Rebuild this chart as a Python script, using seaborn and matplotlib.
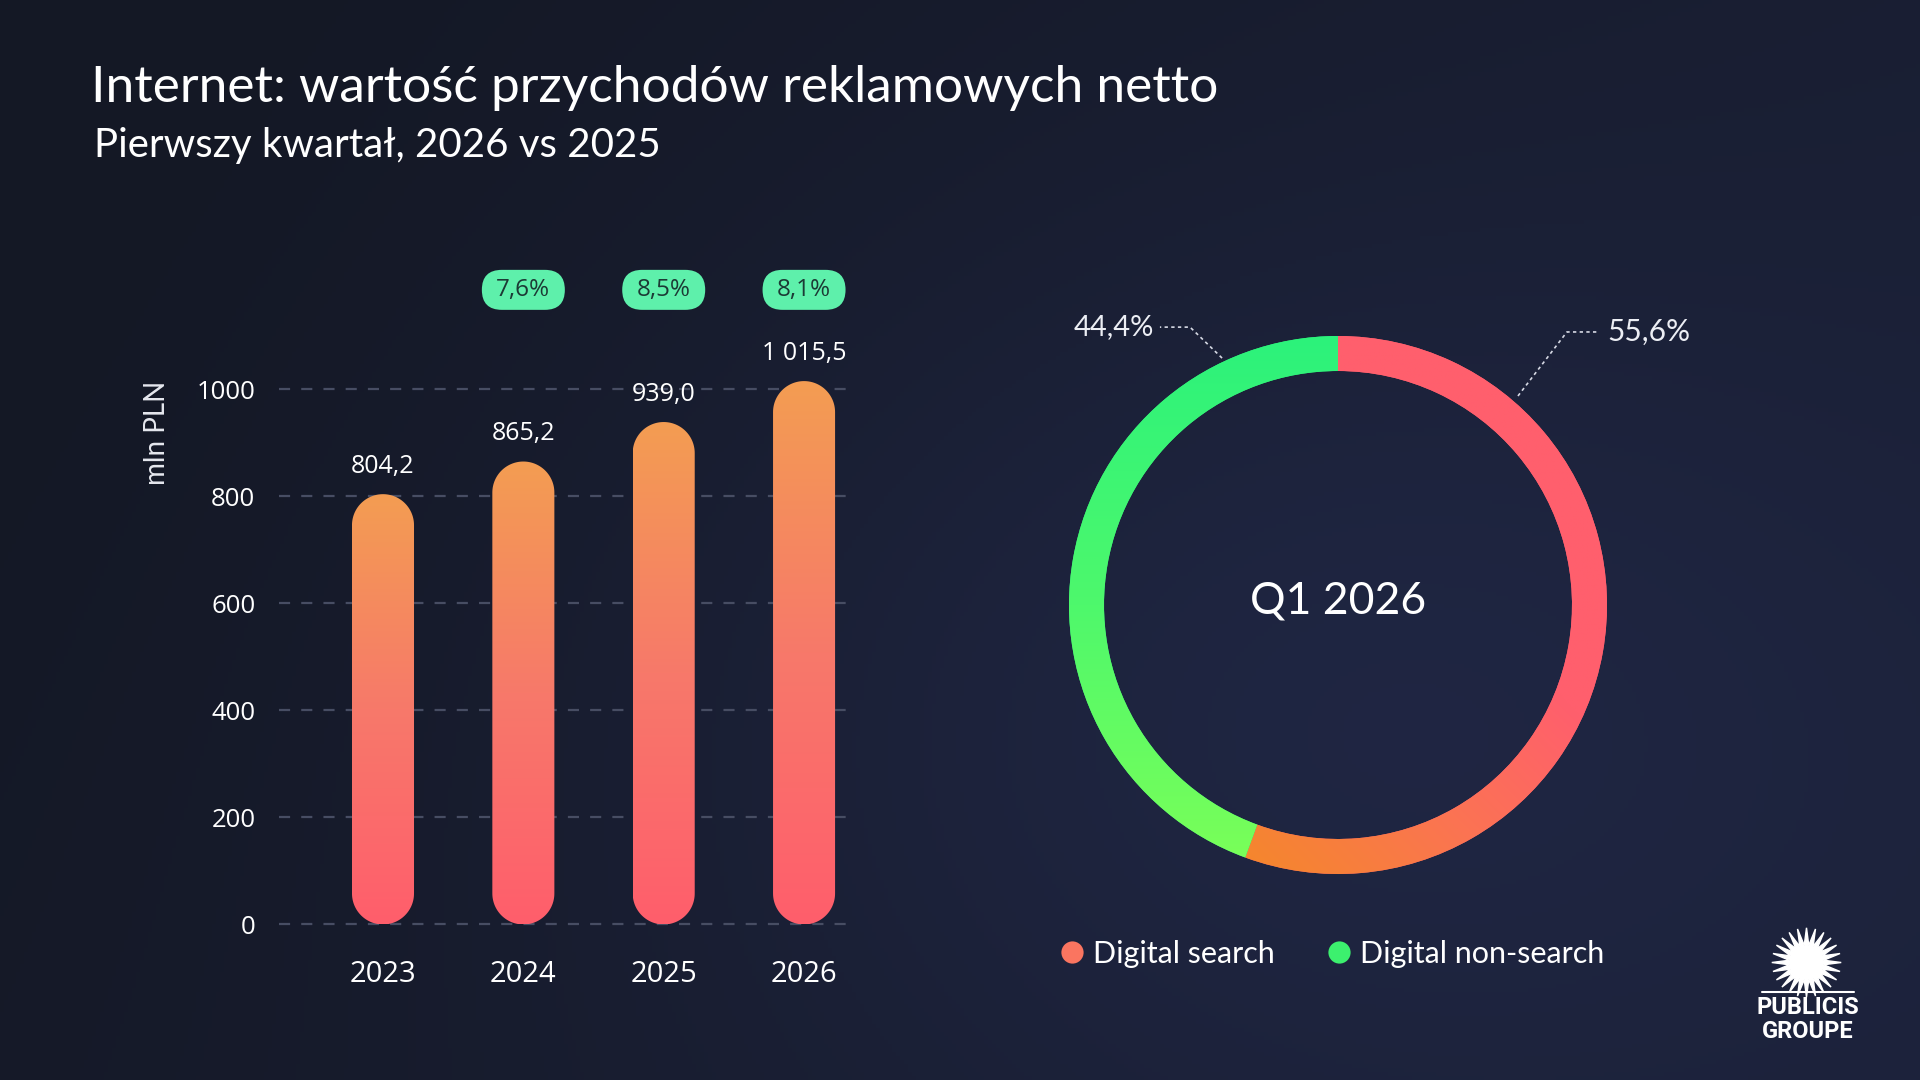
import numpy as np
import matplotlib.pyplot as plt
import seaborn as sns
from matplotlib.patches import FancyBboxPatch, PathPatch
from matplotlib.path import Path
from matplotlib.colors import LinearSegmentedColormap
from matplotlib.lines import Line2D

# data
years = ['2023', '2024', '2025', '2026']
revenue = [804.2, 865.2, 939.0, 1015.5]
revenue_labels = ['804,2', '865,2', '939,0', '1 015,5']
growth_labels = ['', '7,6%', '8,5%', '8,1%']
y_ticks = [0, 200, 400, 600, 800, 1000]
share_names = ['Digital search', 'Digital non-search']
share_values = [55.6, 44.4]
share_labels = ['55,6%', '44,4%']

title = 'Internet: wartość przychodów reklamowych netto'
subtitle = 'Pierwszy kwartał, 2026 vs 2025'

sns.set_style('dark')
plt.rcParams['font.family'] = ['Lato', 'DejaVu Sans']
plt.rcParams['text.color'] = 'white'

W, H = 1920, 1080
fig = plt.figure(figsize=(W / 100, H / 100), dpi=100)
fig.patch.set_facecolor('#181d2e')

# background gradient with a soft glow behind the donut
bg = fig.add_axes([0, 0, 1, 1], zorder=-10)
bg.axis('off')
yy, xx = np.mgrid[0:1:270j, 0:1:480j]
dark = np.array([0x14, 0x18, 0x25]) / 255
light = np.array([0x21, 0x28, 0x47]) / 255
t = np.clip(0.75 * xx + 0.25 * (1 - yy) - 0.1, 0, 1)
glow = np.exp(-(((xx - 0.68) / 0.35) ** 2 + ((yy - 0.35) / 0.45) ** 2))
t = np.clip(0.6 * t + 0.5 * glow, 0, 1)
img = dark + (light - dark) * t[..., None]
bg.imshow(img, extent=(0, 1, 0, 1), origin='lower', aspect='auto')
bg.set_xlim(0, 1)
bg.set_ylim(0, 1)

fig.text(91 / W, 1 - 88 / H, title, fontsize=37, va='center')
fig.text(94 / W, 1 - 146 / H, subtitle, fontsize=29, va='center')

# ---------------- bar chart ----------------
ax = fig.add_axes([279 / W, 0.12912, 576 / W, 0.63421])
ax.set_facecolor('none')
sns.barplot(x=years, y=revenue, ax=ax, width=0.442, color='#f58a5f')
ax.set_xlim(-0.741, 3.363)
ax.set_ylim(-30, 1250)

bbox = ax.get_position()
xpp = np.diff(ax.get_xlim())[0] / (bbox.width * W)
ypp = np.diff(ax.get_ylim())[0] / (bbox.height * H)
aspect = ypp / xpp


def capsule(x0, w, h):
    r = w / 2
    ry = r * aspect
    cx = x0 + r
    top = np.linspace(0, np.pi, 60)
    bot = np.linspace(np.pi, 2 * np.pi, 60)
    xs = np.concatenate([cx + r * np.cos(top), cx + r * np.cos(bot)])
    ys = np.concatenate([h - ry + ry * np.sin(top), ry + ry * np.sin(bot)])
    verts = np.column_stack([xs, ys])
    verts = np.vstack([verts, verts[:1]])
    codes = [Path.MOVETO] + [Path.LINETO] * (len(verts) - 2) + [Path.CLOSEPOLY]
    return PathPatch(Path(verts, codes), facecolor='none', edgecolor='none')


bar_cmap = LinearSegmentedColormap.from_list('bar', ['#ff5e6c', '#f7796a', '#f39d52'])
grad = np.linspace(0, 1, 256).reshape(-1, 1)
for p in list(ax.patches):
    x0, w, h = p.get_x(), p.get_width(), p.get_height()
    p.set_visible(False)
    cap = capsule(x0, w, h)
    ax.add_patch(cap)
    im = ax.imshow(grad, extent=(x0, x0 + w, 0, h), origin='lower', aspect='auto',
                   cmap=bar_cmap, zorder=3)
    im.set_clip_path(cap)

ax.set_xlim(-0.741, 3.363)
ax.set_ylim(-30, 1250)
ax.set_yticks(y_ticks)
ax.set_yticklabels([str(v) for v in y_ticks])
ax.yaxis.grid(True, linestyle=(0, (5, 5)), color='#474d63', lw=1.6)
ax.xaxis.grid(False)
ax.set_axisbelow(True)
for s in ax.spines.values():
    s.set_visible(False)
ax.tick_params(axis='y', length=0, pad=17, labelsize=18.5, labelcolor='white')
ax.tick_params(axis='x', length=0, pad=14, labelsize=21, labelcolor='white')
ax.set_xlabel('')
ax.set_ylabel('')
for lab in ax.get_xticklabels() + ax.get_yticklabels():
    lab.set_family(['Open Sans', 'DejaVu Sans'])

for i, (v, lbl) in enumerate(zip(revenue, revenue_labels)):
    ax.annotate(lbl, (i, v), xytext=(0, 20), textcoords='offset points',
                ha='center', va='center', fontsize=18, color='white',
                family=['Open Sans', 'DejaVu Sans'])

badge_y = 1186
bw, bh = 83 * xpp, 40 * ypp
for i, g in enumerate(growth_labels):
    if not g:
        continue
    badge = FancyBboxPatch((i - bw / 2, badge_y - bh / 2), bw, bh,
                           boxstyle=f'round,pad=0,rounding_size={20 * xpp}',
                           mutation_aspect=aspect, facecolor='#5ef0ab',
                           edgecolor='none', clip_on=False, zorder=4)
    ax.add_patch(badge)
    ax.text(i, badge_y, g, ha='center', va='center', fontsize=17.5, color='#1c3a35',
            family=['Open Sans', 'DejaVu Sans'], zorder=5, clip_on=False)

fig.text(157 / W, 1 - 433 / H, 'mln PLN', rotation=90, fontsize=20,
         ha='center', va='center', color='#e6e8ef')

# ---------------- donut ----------------
R = 269
ax2 = fig.add_axes([(1338 - 300) / W, (H - 605 - 300) / H, 600 / W, 600 / H])
ax2.set_facecolor('none')
wedges, _ = ax2.pie(share_values, startangle=90, counterclock=False, radius=1,
                    colors=['#ff5f6d', '#2ef27a'],
                    wedgeprops=dict(width=35 / R, linewidth=0, edgecolor='none'))
lim = 300 / R
ax2.set_xlim(-lim, lim)
ax2.set_ylim(-lim, lim)
ax2.axis('off')

X, Y = np.meshgrid(np.linspace(-1, 1, 400), np.linspace(-1, 1, 400))
search_t = np.clip(((X + Y) / np.sqrt(2) + 0.9) / 1.25, 0, 1)
green_t = (1 - Y) / 2
search_cmap = LinearSegmentedColormap.from_list('s', ['#f5862e', '#fb7452', '#ff5f6d'])
green_cmap = LinearSegmentedColormap.from_list('g', ['#2cf27b', '#4ef86c', '#7cff58'])
for wdg, tt, cm in zip(wedges, [search_t, green_t], [search_cmap, green_cmap]):
    im = ax2.imshow(tt, extent=(-1, 1, -1, 1), origin='lower', cmap=cm,
                    vmin=0, vmax=1, aspect='auto', zorder=2)
    im.set_clip_path(wdg)
ax2.set_xlim(-lim, lim)
ax2.set_ylim(-lim, lim)

ax2.text(0, 0.015, 'Q1 2026', ha='center', va='center', fontsize=32)

line_kw = dict(color='#d6d9e4', lw=1.2, linestyle=(0, (2, 2)), clip_on=False)
ax2.plot([0.669, 0.851, 0.967], [0.777, 1.015, 1.015], **line_kw)
ax2.text(1.0, 1.015, share_labels[0], ha='left', va='center', fontsize=21.5,
         color='#eceef4')
ax2.plot([-0.431, -0.550, -0.662], [0.918, 1.033, 1.033], **line_kw)
ax2.text(-0.682, 1.033, share_labels[1], ha='right', va='center', fontsize=21,
         color='#eceef4')

handles = [Line2D([], [], marker='o', linestyle='', markersize=16,
                  markerfacecolor=c, markeredgecolor='none')
           for c in ['#fa7560', '#3cf06e']]
fig.legend(handles, share_names, loc='center left', bbox_to_anchor=(1032 / W, 1 - 954 / H),
           ncol=2, frameon=False, labelcolor='white', handlelength=0.8,
           handletextpad=0.3, columnspacing=1.7, prop=dict(size=22))

# logo
fig.text(1808 / W, 1 - 1008 / H, 'PUBLICIS', ha='center', va='center', fontsize=17,
         weight='bold', family=['Roboto', 'DejaVu Sans'])
fig.text(1808 / W, 1 - 1031 / H, 'GROUPE', ha='center', va='center', fontsize=17,
         weight='bold', family=['Roboto', 'DejaVu Sans'])
fig.add_artist(Line2D([1762 / W, 1854 / W], [1 - 992 / H, 1 - 992 / H], color='white', lw=1.5))
fig.add_artist(Line2D([1806 / W], [1 - 962 / H], marker=(24, 1, 0), markersize=50,
                      color='white', linestyle=''))

fig.savefig('out.png', dpi=100, facecolor=fig.get_facecolor())
